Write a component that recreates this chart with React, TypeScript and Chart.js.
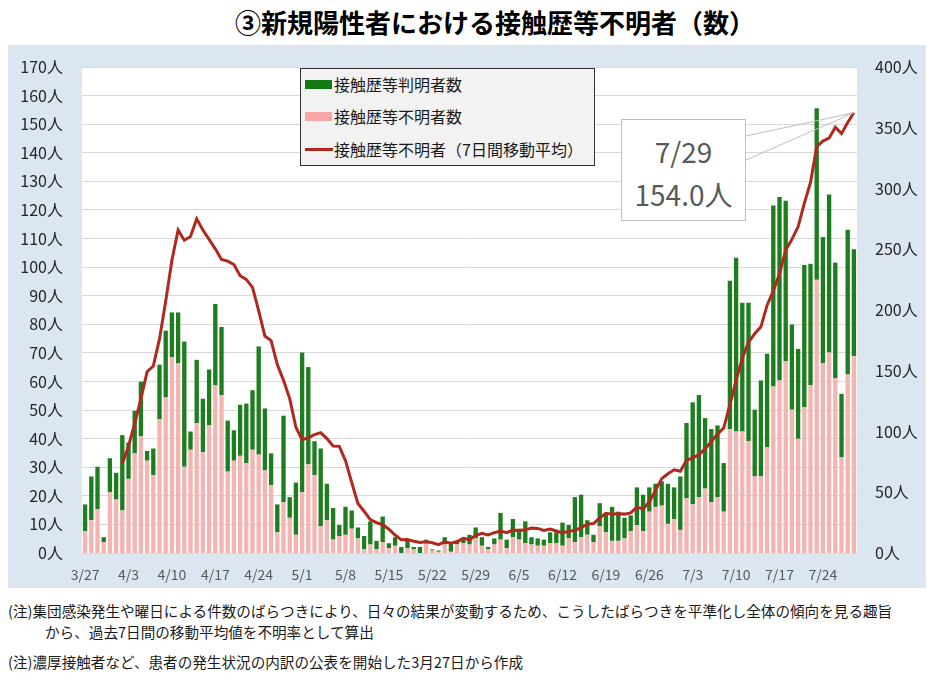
import React, { useEffect, useRef } from 'react';
import { Chart, registerables } from 'chart.js';

Chart.register(...registerables);

const FONT = "'Noto Sans CJK JP', 'Noto Sans', sans-serif";

const dates = [
  '3/27', '3/28', '3/29', '3/30', '3/31',
  '4/1', '4/2', '4/3', '4/4', '4/5', '4/6', '4/7', '4/8', '4/9', '4/10', '4/11', '4/12', '4/13', '4/14', '4/15',
  '4/16', '4/17', '4/18', '4/19', '4/20', '4/21', '4/22', '4/23', '4/24', '4/25', '4/26', '4/27', '4/28', '4/29', '4/30',
  '5/1', '5/2', '5/3', '5/4', '5/5', '5/6', '5/7', '5/8', '5/9', '5/10', '5/11', '5/12', '5/13', '5/14', '5/15',
  '5/16', '5/17', '5/18', '5/19', '5/20', '5/21', '5/22', '5/23', '5/24', '5/25', '5/26', '5/27', '5/28', '5/29', '5/30', '5/31',
  '6/1', '6/2', '6/3', '6/4', '6/5', '6/6', '6/7', '6/8', '6/9', '6/10', '6/11', '6/12', '6/13', '6/14', '6/15',
  '6/16', '6/17', '6/18', '6/19', '6/20', '6/21', '6/22', '6/23', '6/24', '6/25', '6/26', '6/27', '6/28', '6/29', '6/30',
  '7/1', '7/2', '7/3', '7/4', '7/5', '7/6', '7/7', '7/8', '7/9', '7/10', '7/11', '7/12', '7/13', '7/14', '7/15',
  '7/16', '7/17', '7/18', '7/19', '7/20', '7/21', '7/22', '7/23', '7/24', '7/25', '7/26', '7/27', '7/28', '7/29',
];

const tickLabels = ['3/27', '4/3', '4/10', '4/17', '4/24', '5/1', '5/8', '5/15', '5/22', '5/29', '6/5', '6/12', '6/19', '6/26', '7/3', '7/10', '7/17', '7/24'];

// 接触歴等不明者数 (pink, right axis)
const unknownCases = [
  18, 27, 36, 9, 50,
  44, 35, 61, 82, 96, 76, 64, 110, 128, 161, 156, 71, 85, 107, 83,
  105, 138, 130, 67, 76, 80, 74, 85, 81, 68, 56, 17, 42, 29, 15,
  50, 73, 64, 22, 27, 11, 14, 15, 20, 12, 3, 7, 3, 9, 4,
  6, 0, 4, 3, 0, 10, 2, 1, 7, 1, 7, 8, 7, 12, 6, 3,
  7, 11, 4, 13, 11, 8, 7, 6, 6, 8, 8, 6, 12, 9, 13,
  15, 9, 22, 17, 10, 10, 12, 18, 23, 18, 34, 38, 39, 24, 28,
  19, 45, 40, 46, 53, 42, 46, 34, 102, 100, 100, 92, 63, 63, 87,
  137, 142, 158, 118, 94, 120, 138, 225, 156, 165, 144, 79, 147, 162,
];

// 接触歴等判明者数 (green, right axis)
const knownCases = [
  22, 36, 35, 4, 28,
  22, 62, 30, 35, 45, 8, 22, 45, 55, 37, 42, 103, 15, 52, 44,
  46, 67, 56, 42, 25, 42, 49, 49, 89, 51, 26, 23, 71, 17, 43,
  115, 80, 28, 64, 30, 26, 9, 23, 15, 9, 11, 19, 7, 21, 4,
  7, 5, 6, 2, 5, 1, 1, 1, 6, 7, 3, 4, 8, 9, 7, 2,
  5, 22, 7, 15, 9, 18, 6, 6, 5, 9, 9, 19, 11, 37, 35,
  12, 6, 19, 16, 28, 24, 17, 13, 31, 30, 20, 19, 20, 33, 26,
  44, 62, 84, 84, 58, 60, 59, 40, 122, 143, 106, 114, 55, 79, 77,
  149, 151, 132, 70, 74, 117, 100, 141, 104, 130, 95, 52, 119, 88,
];

// 接触歴等不明者（7日間移動平均） (left axis)
const unknownAvg7: (number | null)[] = [
  null, null, null, null, null,
  null, 31.3, 37.4, 45.3, 53.9, 63.4, 65.4, 74.9, 88.1, 102.4, 113.0, 109.4, 110.7, 116.9, 113.0,
  109.7, 106.4, 102.7, 102.1, 100.9, 97.0, 95.7, 92.9, 84.7, 75.9, 74.3, 65.9, 60.4, 54.0, 44.0,
  39.6, 40.3, 41.4, 42.1, 40.0, 37.4, 37.3, 32.3, 24.7, 17.3, 14.6, 11.7, 10.6, 9.9, 8.3,
  6.3, 4.6, 4.7, 4.1, 3.7, 3.9, 3.6, 2.9, 3.9, 3.4, 4.0, 5.1, 4.7, 6.1, 6.9, 6.3,
  7.1, 7.7, 7.1, 8.0, 7.9, 8.1, 8.7, 8.6, 7.9, 8.4, 7.7, 7.0, 7.6, 7.9, 8.9,
  10.1, 10.3, 12.3, 13.9, 13.6, 13.7, 13.6, 14.0, 16.0, 15.4, 17.9, 21.9, 26.0, 27.7, 29.1,
  28.6, 32.4, 33.3, 34.4, 36.4, 39.0, 41.6, 43.7, 51.9, 60.4, 68.1, 73.7, 76.7, 79.1, 86.7,
  91.7, 97.7, 106.0, 109.7, 114.1, 122.3, 129.6, 142.1, 144.1, 145.1, 148.9, 146.7, 150.6, 154.0,
];

const legendLabels = ['接触歴等判明者数', '接触歴等不明者数', '接触歴等不明者（7日間移動平均）'];
const calloutDate = '7/29';
const calloutValue = '154.0人';

const GREEN = '#1e7d1e';
const PINK = '#f2b5b2';
const LEGEND_PINK = '#f7a6a6';
const RED = '#b0281e';

const plotBg = {
  id: 'plotBg',
  beforeDraw(chart: any) {
    const { ctx, chartArea } = chart;
    ctx.save();
    ctx.fillStyle = '#ffffff';
    ctx.fillRect(chartArea.left, chartArea.top, chartArea.right - chartArea.left, chartArea.bottom - chartArea.top);
    ctx.restore();
  },
};

const leader = {
  id: 'leader',
  afterDraw(chart: any) {
    const meta = chart.getDatasetMeta(2);
    const pts = meta.data;
    const p = pts[pts.length - 1];
    if (!p) return;
    const ctx = chart.ctx;
    ctx.save();
    ctx.strokeStyle = '#bfbfbf';
    ctx.lineWidth = 1;
    ctx.beginPath();
    ctx.moveTo(738, 91);
    ctx.lineTo(p.x, p.y);
    ctx.moveTo(738, 115);
    ctx.lineTo(p.x, p.y);
    ctx.stroke();
    ctx.restore();
  },
};

export default function App() {
  const ref = useRef<HTMLCanvasElement>(null);

  useEffect(() => {
    Chart.defaults.font.family = FONT;
    const chart = new Chart(ref.current as HTMLCanvasElement, {
      type: 'bar',
      data: {
        labels: dates,
        datasets: [
          {
            type: 'bar',
            label: legendLabels[1],
            data: unknownCases,
            backgroundColor: PINK,
            yAxisID: 'y2',
            stack: 's',
            order: 1,
            barPercentage: 0.7,
            categoryPercentage: 1,
          },
          {
            type: 'bar',
            label: legendLabels[0],
            data: knownCases,
            backgroundColor: GREEN,
            yAxisID: 'y2',
            stack: 's',
            order: 1,
            barPercentage: 0.7,
            categoryPercentage: 1,
          },
          {
            type: 'line',
            label: legendLabels[2],
            data: unknownAvg7,
            borderColor: RED,
            backgroundColor: RED,
            borderWidth: 3,
            pointRadius: 0,
            tension: 0,
            yAxisID: 'y',
            order: 0,
          } as any,
        ],
      },
      options: {
        animation: false,
        responsive: false,
        devicePixelRatio: 1,
        layout: { padding: { top: 22, left: 0, right: 0, bottom: 0 } },
        plugins: {
          legend: { display: false },
          tooltip: { enabled: false },
        },
        scales: {
          x: {
            stacked: true,
            grid: { display: false, drawTicks: false },
            border: { display: false },
            ticks: {
              autoSkip: false,
              maxRotation: 0,
              minRotation: 0,
              padding: 13,
              color: '#595959',
              font: { size: 14 },
              callback: (_v: any, i: number) => (tickLabels.includes(dates[i]) ? dates[i] : ''),
            },
            afterFit: (s: any) => { s.height = 35; },
          },
          y: {
            position: 'left',
            min: 0,
            max: 170,
            grid: { color: '#d9d9d9', lineWidth: 1, drawTicks: false },
            border: { display: false },
            ticks: {
              stepSize: 10,
              padding: 19,
              color: '#262626',
              font: { size: 16 },
              callback: (v: any) => `${v}人`,
            },
            afterFit: (s: any) => { s.width = 74; s.paddingTop = 10; s.paddingBottom = 10; },
          },
          y2: {
            position: 'right',
            stacked: true,
            min: 0,
            max: 400,
            grid: { display: false, drawTicks: false },
            border: { display: false },
            ticks: {
              stepSize: 50,
              padding: 18,
              color: '#262626',
              font: { size: 16 },
              callback: (v: any) => `${v}人`,
            },
            afterFit: (s: any) => { s.width = 73; s.paddingTop = 10; s.paddingBottom = 10; },
          },
        },
      } as any,
      plugins: [plotBg, leader],
    });
    return () => chart.destroy();
  }, []);

  const legendItem = (i: number, top: number) => (
    <div key={i} style={{ position: 'absolute', left: 0, top: top - 12, height: 24, display: 'flex', alignItems: 'center' }}>
      <div style={{ width: 29, marginLeft: 4, display: 'flex', alignItems: 'center' }}>
        {i === 2 ? (
          <div style={{ width: 28, height: 3, background: RED }} />
        ) : (
          <div style={{ width: 27, height: 9, background: i === 0 ? '#127a12' : LEGEND_PINK }} />
        )}
      </div>
      <span style={{ fontSize: 16, color: '#1a1a1a', whiteSpace: 'nowrap', lineHeight: '24px' }}>{legendLabels[i]}</span>
    </div>
  );

  return (
    <div style={{ position: 'relative', width: 922, height: 664, fontFamily: FONT }}>
      <div style={{ position: 'absolute', left: 227, top: -1, width: 494, textAlign: 'center', fontSize: 26, fontWeight: 700, lineHeight: '30px', color: '#000', whiteSpace: 'nowrap' }}>
        ③新規陽性者における接触歴等不明者（数）
      </div>
      <div style={{ position: 'absolute', left: 0, top: 37, width: 922, height: 543, background: '#dce6f1' }}>
        <canvas ref={ref} width={922} height={543} style={{ display: 'block', width: 922, height: 543 }} />
        <div style={{ position: 'absolute', left: 292, top: 23, width: 295, height: 98, boxSizing: 'border-box', border: '1px solid #333', background: '#f2f2f2' }}>
          {legendItem(0, 15)}
          {legendItem(1, 47)}
          {legendItem(2, 80)}
        </div>
        <div style={{ position: 'absolute', left: 613, top: 74, width: 125, height: 102, boxSizing: 'border-box', border: '1px solid #bfbfbf', background: '#fff', color: '#595959', fontSize: 28, textAlign: 'center' }}>
          <div style={{ position: 'absolute', left: 0, right: 0, top: 31 - 20, lineHeight: '40px' }}>{calloutDate}</div>
          <div style={{ position: 'absolute', left: 0, right: 0, top: 74 - 20, lineHeight: '40px' }}>{calloutValue}</div>
        </div>
      </div>
      <div style={{ position: 'absolute', left: 0, top: 593, fontSize: 14.6, lineHeight: '20px', color: '#1a1a1a', whiteSpace: 'nowrap' }}>
        (注)集団感染発生や曜日による件数のばらつきにより、日々の結果が変動するため、こうしたばらつきを平準化し全体の傾向を見る趣旨
      </div>
      <div style={{ position: 'absolute', left: 37, top: 614, fontSize: 14.6, lineHeight: '20px', color: '#1a1a1a', whiteSpace: 'nowrap' }}>
        から、過去7日間の移動平均値を不明率として算出
      </div>
      <div style={{ position: 'absolute', left: 0, top: 644, fontSize: 14.6, lineHeight: '20px', color: '#1a1a1a', whiteSpace: 'nowrap' }}>
        (注)濃厚接触者など、患者の発生状況の内訳の公表を開始した3月27日から作成
      </div>
    </div>
  );
}
